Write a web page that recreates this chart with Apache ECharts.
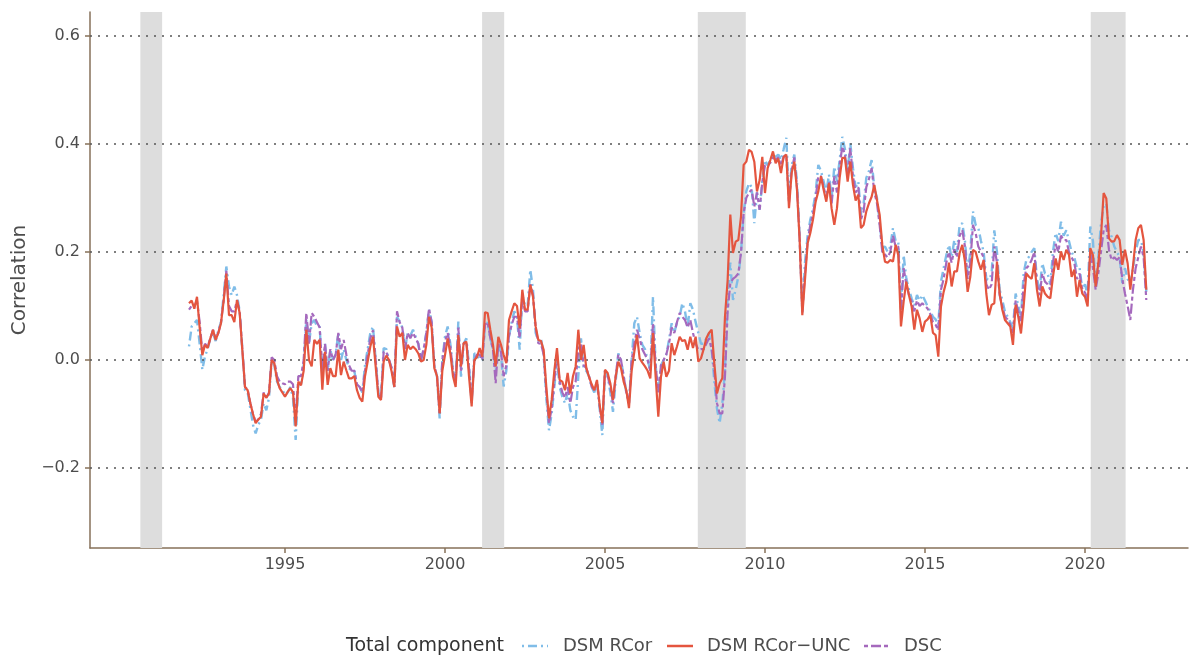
<!DOCTYPE html>
<html>
<head>
<meta charset="utf-8">
<script src="https://cdn.jsdelivr.net/npm/echarts@6/dist/echarts.min.js"></script>
<style>
html, body { margin: 0; padding: 0; background: #fff; }
#chart { width: 1190px; height: 655px; }
</style>
</head>
<body>
<div id="chart"></div>
<script>
// monthly values, first point is Jan 1992
const startYear = 1992;

const dsmRCor = [
  0.025, 0.062, 0.068, 0.074, 0.03, -0.018, 0.007, 0.02, 0.04, 0.05,
  0.035, 0.055, 0.07, 0.12, 0.173, 0.136, 0.12, 0.136, 0.12, 0.09,
  0.02, -0.056, -0.06, -0.09, -0.12, -0.136, -0.12, -0.11, -0.08, -0.093,
  -0.07, 0.0, -0.01, -0.04, -0.05, -0.055, -0.065, -0.06, -0.05, -0.07,
  -0.148, -0.045, -0.045, -0.01, 0.074, 0.031, 0.068, 0.074, 0.062, 0.062,
  -0.03, 0.03, -0.02, 0.019, 0.0, 0.01, 0.05, 0.0, 0.02, 0.0,
  -0.015, -0.02, -0.02, -0.05, -0.05, -0.06, -0.01, 0.02, 0.05, 0.062,
  0.0, -0.06, -0.07, 0.022, 0.02, 0.0, -0.015, -0.05, 0.08, 0.071,
  0.06, 0.02, 0.05, 0.045, 0.056, 0.043, 0.03, 0.0, 0.02, 0.05,
  0.093, 0.07, -0.01, -0.03, -0.108, 0.0, 0.043, 0.062, 0.03, -0.02,
  -0.04, 0.071, -0.031, 0.03, 0.04, -0.01, -0.08, 0.012, 0.01, 0.0,
  0.0, 0.062, 0.07, 0.04, 0.02, -0.02, 0.03, 0.01, -0.049, -0.02,
  0.043, 0.07, 0.09, 0.08, 0.019, 0.12, 0.1, 0.1, 0.167, 0.13,
  0.05, 0.035, 0.04, 0.01, -0.07, -0.13, -0.1, -0.05, 0.0, -0.05,
  -0.068, -0.08, -0.06, -0.093, -0.105, -0.111, -0.03, 0.04, -0.018, -0.02,
  -0.03, -0.05, -0.06, -0.04, -0.09, -0.139, -0.02, -0.03, -0.06, -0.096,
  -0.04, 0.012, 0.0, -0.03, -0.06, -0.08, 0.0, 0.068, 0.08, 0.05,
  0.028, 0.02, 0.0, -0.02, 0.117, -0.01, -0.062, -0.01, 0.0, 0.01,
  0.037, 0.068, 0.05, 0.07, 0.08, 0.105, 0.09, 0.06, 0.105, 0.093,
  0.07, 0.05, 0.03, 0.03, 0.04, 0.05, 0.02, -0.04, -0.09, -0.117,
  -0.08, -0.02, 0.117, 0.18, 0.111, 0.13, 0.154, 0.198, 0.272, 0.312,
  0.327, 0.32, 0.253, 0.31, 0.278, 0.33, 0.37, 0.36, 0.37, 0.38,
  0.376, 0.38, 0.37, 0.39, 0.411, 0.3, 0.36, 0.38, 0.33, 0.23,
  0.09, 0.18, 0.23, 0.26, 0.28, 0.31, 0.361, 0.35, 0.33, 0.31,
  0.343, 0.3, 0.358, 0.33, 0.37, 0.413, 0.39, 0.35, 0.401, 0.355,
  0.32, 0.33, 0.269, 0.29, 0.337, 0.35, 0.37, 0.318, 0.3, 0.256,
  0.207, 0.21, 0.2, 0.21, 0.244, 0.22, 0.219, 0.096, 0.194, 0.151,
  0.13, 0.114, 0.1, 0.12, 0.11, 0.12, 0.11, 0.099, 0.09, 0.08,
  0.075, 0.065, 0.145, 0.17, 0.194, 0.213, 0.19, 0.222, 0.2, 0.25,
  0.253, 0.22, 0.16, 0.2, 0.275, 0.25, 0.245, 0.22, 0.2, 0.15,
  0.148, 0.16, 0.24, 0.2, 0.13, 0.111, 0.089, 0.08, 0.07, 0.059,
  0.123, 0.1, 0.08, 0.16, 0.185, 0.191, 0.2, 0.207, 0.15, 0.13,
  0.179, 0.16, 0.16, 0.14, 0.2, 0.235, 0.22, 0.256, 0.23, 0.24,
  0.22, 0.2, 0.19, 0.17, 0.17, 0.13, 0.14, 0.12, 0.247, 0.22,
  0.136, 0.19, 0.253, 0.284, 0.29, 0.24, 0.228, 0.21, 0.2, 0.19,
  0.142, 0.17, 0.15, 0.14, 0.17, 0.2, 0.222, 0.222, 0.2, 0.126
];

const dsmRCorUnc = [
  0.105, 0.11, 0.095, 0.117, 0.06, 0.009, 0.028, 0.022, 0.04, 0.056,
  0.037, 0.05, 0.068, 0.11, 0.16, 0.083, 0.083, 0.07, 0.111, 0.087,
  0.018, -0.05, -0.056, -0.08, -0.1, -0.117, -0.11, -0.105, -0.062, -0.07,
  -0.062, 0.0, -0.006, -0.037, -0.052, -0.06, -0.068, -0.059, -0.052, -0.06,
  -0.123, -0.04, -0.047, -0.02, 0.056, 0.0, -0.012, 0.037, 0.03, 0.037,
  -0.055, 0.015, -0.046, -0.015, -0.03, -0.03, 0.019, -0.028, -0.003, -0.019,
  -0.034, -0.034, -0.03, -0.056, -0.07, -0.077, -0.03, -0.003, 0.025, 0.043,
  -0.012, -0.068, -0.074, -0.003, 0.008, 0.0, -0.022, -0.05, 0.062, 0.043,
  0.05, 0.0, 0.028, 0.02, 0.025, 0.02, 0.012, -0.003, 0.0, 0.028,
  0.08, 0.06, -0.015, -0.03, -0.099, -0.02, 0.009, 0.04, 0.012, -0.03,
  -0.05, 0.046, -0.012, 0.031, 0.034, -0.03, -0.086, 0.0, 0.005, 0.022,
  0.006, 0.088, 0.087, 0.056, 0.028, -0.012, 0.043, 0.028, 0.009, -0.006,
  0.074, 0.09, 0.105, 0.1, 0.059, 0.13, 0.093, 0.093, 0.139, 0.117,
  0.062, 0.037, 0.035, 0.019, -0.05, -0.108, -0.074, -0.02, 0.022, -0.037,
  -0.04, -0.056, -0.024, -0.062, -0.03, -0.012, 0.056, 0.0, 0.028, -0.015,
  -0.031, -0.045, -0.056, -0.037, -0.083, -0.117, -0.018, -0.024, -0.043, -0.074,
  -0.031, -0.003, -0.015, -0.04, -0.056, -0.089, -0.02, 0.015, 0.046, 0.003,
  -0.005, -0.012, -0.02, -0.034, 0.05, -0.031, -0.105, -0.031, -0.003, -0.031,
  -0.02, 0.031, 0.009, 0.025, 0.043, 0.035, 0.037, 0.019, 0.043, 0.022,
  0.043, -0.003, 0.003, 0.02, 0.04, 0.05, 0.056, -0.006, -0.062, -0.043,
  -0.034, 0.08, 0.148, 0.269, 0.198, 0.219, 0.222, 0.265, 0.361, 0.367,
  0.389, 0.385, 0.367, 0.312, 0.333, 0.376, 0.309, 0.355, 0.37, 0.386,
  0.364, 0.373, 0.346, 0.376, 0.38, 0.281, 0.346, 0.367, 0.315, 0.222,
  0.083, 0.148, 0.216, 0.235, 0.26, 0.293, 0.312, 0.34, 0.315, 0.293,
  0.327, 0.28, 0.25, 0.281, 0.337, 0.374, 0.374, 0.33, 0.367, 0.324,
  0.295, 0.306, 0.244, 0.25, 0.275, 0.29, 0.302, 0.324, 0.296, 0.269,
  0.213, 0.182, 0.18, 0.185, 0.182, 0.213, 0.194, 0.062, 0.108, 0.145,
  0.12, 0.099, 0.056, 0.093, 0.077, 0.052, 0.071, 0.075, 0.083, 0.05,
  0.046, 0.006, 0.099, 0.126, 0.145, 0.18, 0.136, 0.164, 0.164, 0.198,
  0.213, 0.182, 0.126, 0.154, 0.204, 0.2, 0.182, 0.167, 0.185, 0.123,
  0.083, 0.102, 0.105, 0.182, 0.123, 0.093, 0.074, 0.068, 0.062, 0.028,
  0.102, 0.08, 0.049, 0.099, 0.16, 0.154, 0.15, 0.179, 0.13, 0.099,
  0.136, 0.123, 0.117, 0.114, 0.154, 0.188, 0.167, 0.201, 0.185, 0.204,
  0.195, 0.154, 0.167, 0.117, 0.148, 0.123, 0.117, 0.099, 0.207, 0.194,
  0.136, 0.179, 0.228, 0.309, 0.299, 0.225, 0.219, 0.22, 0.231, 0.222,
  0.176, 0.204, 0.179, 0.13, 0.173, 0.222, 0.244, 0.25, 0.222, 0.13
];

const dsc = [
  0.093, 0.1, 0.1, 0.11, 0.07, 0.015, 0.03, 0.025, 0.04, 0.056,
  0.04, 0.05, 0.07, 0.11, 0.165, 0.1, 0.09, 0.09, 0.11, 0.09,
  0.02, -0.05, -0.055, -0.08, -0.1, -0.115, -0.11, -0.1, -0.06, -0.07,
  -0.06, 0.005, 0.0, -0.03, -0.04, -0.043, -0.045, -0.04, -0.04, -0.045,
  -0.11, -0.03, -0.03, 0.0, 0.087, 0.03, 0.087, 0.08, 0.07, 0.06,
  -0.02, 0.03, -0.02, 0.02, 0.0, 0.01, 0.05, 0.02, 0.037, 0.01,
  -0.01, -0.02, -0.02, -0.045, -0.05, -0.06, -0.02, 0.01, 0.04, 0.055,
  0.0, -0.06, -0.07, 0.015, 0.015, 0.0, -0.015, -0.05, 0.09, 0.07,
  0.06, 0.02, 0.05, 0.04, 0.05, 0.04, 0.03, 0.0, 0.02, 0.05,
  0.095, 0.07, -0.01, -0.03, -0.1, 0.0, 0.035, 0.05, 0.025, -0.02,
  -0.04, 0.06, -0.02, 0.03, 0.035, -0.015, -0.075, 0.0, 0.01, 0.01,
  0.0, 0.065, 0.07, 0.04, 0.02, -0.043, 0.03, 0.015, -0.03, -0.01,
  0.045, 0.065, 0.08, 0.08, 0.04, 0.115, 0.09, 0.09, 0.14, 0.12,
  0.06, 0.031, 0.03, 0.01, -0.06, -0.117, -0.09, -0.04, 0.01, -0.04,
  -0.06, -0.07, -0.05, -0.08, -0.05, -0.04, 0.02, 0.03, -0.01, -0.015,
  -0.03, -0.05, -0.055, -0.04, -0.085, -0.12, -0.02, -0.03, -0.05, -0.08,
  -0.03, 0.01, 0.0, -0.03, -0.06, -0.08, 0.0, 0.03, 0.056, 0.04,
  0.02, 0.01, 0.0, -0.02, 0.068, -0.01, -0.06, -0.01, 0.0, 0.01,
  0.03, 0.06, 0.05, 0.07, 0.087, 0.08, 0.074, 0.06, 0.074, 0.05,
  0.03, 0.019, 0.02, 0.02, 0.03, 0.04, 0.02, -0.02, -0.08, -0.099,
  -0.099, -0.03, 0.09, 0.142, 0.15, 0.154, 0.16, 0.198, 0.272, 0.3,
  0.31, 0.315, 0.284, 0.31, 0.278, 0.33, 0.36, 0.36, 0.365, 0.375,
  0.37, 0.375, 0.36, 0.376, 0.38, 0.29, 0.35, 0.375, 0.32, 0.225,
  0.088, 0.16, 0.22, 0.25, 0.27, 0.3, 0.34, 0.34, 0.32, 0.3,
  0.33, 0.29, 0.34, 0.31, 0.36, 0.395, 0.38, 0.34, 0.392, 0.34,
  0.31, 0.32, 0.26, 0.275, 0.32, 0.335, 0.355, 0.31, 0.29, 0.25,
  0.2, 0.195, 0.19, 0.2, 0.23, 0.21, 0.21, 0.09, 0.17, 0.14,
  0.12, 0.108, 0.09, 0.11, 0.1, 0.105, 0.1, 0.095, 0.085, 0.07,
  0.065, 0.055, 0.13, 0.15, 0.18, 0.2, 0.18, 0.205, 0.19, 0.23,
  0.24, 0.21, 0.15, 0.18, 0.25, 0.235, 0.21, 0.2, 0.19, 0.14,
  0.13, 0.14, 0.21, 0.18, 0.12, 0.1, 0.08, 0.075, 0.065, 0.05,
  0.11, 0.09, 0.07, 0.14, 0.17, 0.175, 0.185, 0.2, 0.14, 0.12,
  0.16, 0.145, 0.14, 0.13, 0.18, 0.215, 0.2, 0.23, 0.222, 0.222,
  0.2, 0.19, 0.18, 0.15, 0.16, 0.13, 0.125, 0.11, 0.2, 0.17,
  0.13, 0.16, 0.2, 0.24, 0.25, 0.204, 0.185, 0.19, 0.185, 0.19,
  0.15, 0.123, 0.1, 0.074, 0.13, 0.17, 0.19, 0.21, 0.19, 0.111
];

// shaded periods (decimal years)
const recessions = [[1990.48, 1991.16], [2001.16, 2001.85], [2007.9, 2009.4], [2020.18, 2021.27]];
const yTicks = [-0.2, 0, 0.2, 0.4, 0.6];
const xTicks = [1995, 2000, 2005, 2010, 2015, 2020];
const seriesNames = ['DSM RCor', 'DSM RCor\u2212UNC', 'DSC'];

const toPairs = arr => arr.map((v, i) => [startYear + i / 12, v]);

const axisColor = '#86715a';
const textColor = '#4d4d4d';
const font = '"DejaVu Sans", sans-serif';
const colors = ['#80bde8', '#e4553f', '#a569bd'];
const dashes = [[2, 4, 9, 4], null, [4, 3, 10, 3]];

// legend drawn as graphic (line key + label)
const keyX = [522, 667, 864];
const labelX = [563, 707, 904];
const legendY = 646;
let legendGraphics = [{
  type: 'text', x: 346, y: legendY,
  style: { text: 'Total component', fill: '#333333', font: '19px ' + font, verticalAlign: 'middle' }
}];
seriesNames.forEach((n, k) => {
  legendGraphics.push({
    type: 'line',
    shape: { x1: keyX[k], y1: legendY, x2: keyX[k] + 26, y2: legendY },
    style: { stroke: colors[k], lineWidth: 2.5, lineDash: dashes[k] || null }
  });
  legendGraphics.push({
    type: 'text', x: labelX[k], y: legendY,
    style: { text: n, fill: textColor, font: '18px ' + font, verticalAlign: 'middle' }
  });
});

let chart = echarts.init(document.getElementById('chart'));
let option = {
  animation: false,
  backgroundColor: '#ffffff',
  textStyle: { fontFamily: font },
  grid: { left: 90, right: 2, top: 12, bottom: 107 },
  xAxis: {
    type: 'value',
    min: 1988.906,
    max: 2023.22,
    axisLine: { show: true, onZero: false, lineStyle: { color: axisColor, width: 1.5 } },
    axisTick: { show: true, customValues: xTicks, length: 5, lineStyle: { color: axisColor, width: 1.5 } },
    axisLabel: {
      customValues: xTicks, margin: 9, color: textColor, fontSize: 16, fontFamily: font,
      formatter: v => String(Math.round(v))
    },
    splitLine: { show: false }
  },
  yAxis: {
    type: 'value',
    min: -0.348,
    max: 0.644,
    name: 'Correlation',
    nameLocation: 'middle',
    nameGap: 59,
    nameTextStyle: { color: textColor, fontSize: 20, fontFamily: font },
    axisLine: { show: true, onZero: false, lineStyle: { color: axisColor, width: 1.5 } },
    axisTick: { show: true, customValues: yTicks, length: 5, lineStyle: { color: axisColor, width: 1.5 } },
    axisLabel: {
      customValues: yTicks, margin: 10, color: textColor, fontSize: 16, fontFamily: font,
      formatter: v => (v < 0 ? '\u2212' : '') + Math.abs(v).toFixed(1)
    },
    splitLine: { show: false }
  },
  graphic: legendGraphics,
  series: [
    {
      name: 'bands',
      type: 'line',
      z: 1,
      data: [[2000, 0]],
      symbol: 'none',
      lineStyle: { opacity: 0 },
      silent: true,
      markArea: {
        silent: true,
        itemStyle: { color: '#dddddd', opacity: 1 },
        data: recessions.map(r => [{ xAxis: r[0] }, { xAxis: r[1] }])
      },
      markLine: {
        silent: true,
        symbol: 'none',
        label: { show: false },
        lineStyle: { color: '#555555', type: [2, 6], width: 1.5 },
        data: yTicks.map(t => ({ yAxis: t }))
      }
    },
    {
      name: seriesNames[0],
      type: 'line',
      z: 3,
      data: toPairs(dsmRCor),
      symbol: 'none',
      lineStyle: { color: colors[0], width: 2.4, type: dashes[0] }
    },
    {
      name: seriesNames[2],
      type: 'line',
      z: 4,
      data: toPairs(dsc),
      symbol: 'none',
      lineStyle: { color: colors[2], width: 2.2, type: dashes[2] }
    },
    {
      name: seriesNames[1],
      type: 'line',
      z: 5,
      data: toPairs(dsmRCorUnc),
      symbol: 'none',
      lineStyle: { color: colors[1], width: 2.2 }
    }
  ]
};
chart.setOption(option);
</script>
</body>
</html>
